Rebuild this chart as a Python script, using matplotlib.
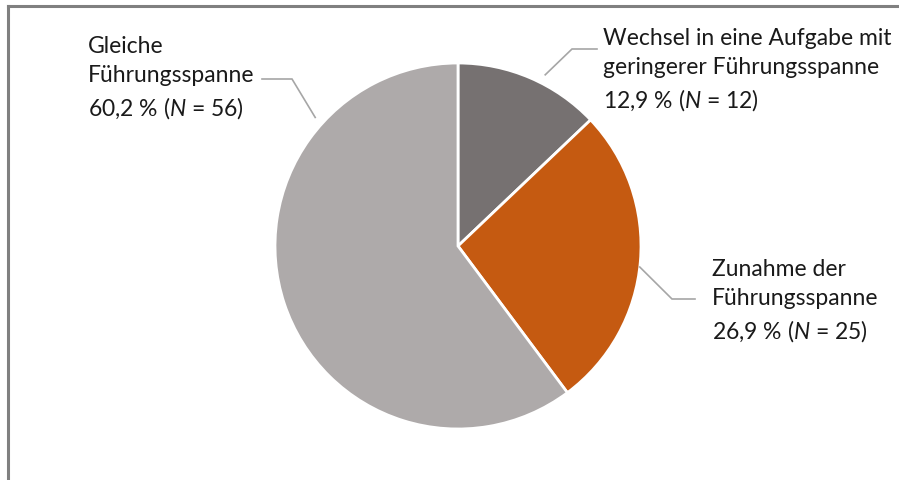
import numpy as np
import matplotlib
matplotlib.use("Agg")
import matplotlib.pyplot as plt
from matplotlib.lines import Line2D

plt.rcParams["font.family"] = ["Lato", "DejaVu Sans"]
plt.rcParams["mathtext.fontset"] = "custom"
plt.rcParams["mathtext.rm"] = "Lato"
plt.rcParams["mathtext.it"] = "Lato:italic"

# Data
categories = ["Wechsel in eine Aufgabe mit\ngeringerer Führungsspanne",
              "Zunahme der\nFührungsspanne",
              "Gleiche\nFührungsspanne"]
shares = [12.9, 26.9, 60.2]
counts = [12, 25, 56]
colors = ["#767171", "#C55A11", "#AEAAAA"]

W, H = 899, 481
fig = plt.figure(figsize=(W / 100, H / 100), dpi=100)
ax = fig.add_axes([0, 0, 1, 1])

cx, cy, r = 458, H - 247, 183
wedges, _ = ax.pie(shares, colors=colors, startangle=90, counterclock=False,
                   radius=r, center=(cx, cy), frame=True,
                   wedgeprops=dict(edgecolor="white", linewidth=2))
ax.set_xlim(0, W)
ax.set_ylim(0, H)
ax.set_aspect("equal")
ax.axis("off")

def label(share, n, name):
    pct = f"{share:.1f}".replace(".", ",")
    return f"{name}\n{pct} % ($\\mathit{{N}}$ = {n})"

# label anchor (top-left), leader: angle on pie, radius factor, elbow, end
layout = [
    dict(xy=(603, 28), ang=63, rf=1.05, elbow=(572, 50), end=(597, 50)),
    dict(xy=(712, 259), ang=-6.6, rf=1.0, elbow=(672, 300), end=(695, 300)),
    dict(xy=(88, 36), ang=138, rf=1.05, elbow=(292, 80), end=(262, 80)),
]

for name, s, n, lay in zip(categories, shares, counts, layout):
    x, y = lay["xy"]
    ax.text(x, H - y, label(s, n, name), ha="left", va="top",
            fontsize=16.5, color="#1a1a1a", linespacing=1.45)
    a = np.deg2rad(lay["ang"])
    px = cx + r * lay["rf"] * np.cos(a)
    py = cy + r * lay["rf"] * np.sin(a)
    ex, ey = lay["elbow"]
    tx, ty = lay["end"]
    ax.plot([px, ex, tx], [py, H - ey, H - ty], color="#A6A6A6", lw=1.2,
            solid_joinstyle="miter")

# outer frame (top and left)
fig.add_artist(Line2D([8 / W, 898 / W], [1 - 6.5 / H, 1 - 6.5 / H],
                      color="#808080", lw=2.2, transform=fig.transFigure))
fig.add_artist(Line2D([8 / W, 8 / W], [0, 1 - 6.5 / H],
                      color="#808080", lw=2.2, transform=fig.transFigure))

fig.savefig("out.png", dpi=100, facecolor="white")
